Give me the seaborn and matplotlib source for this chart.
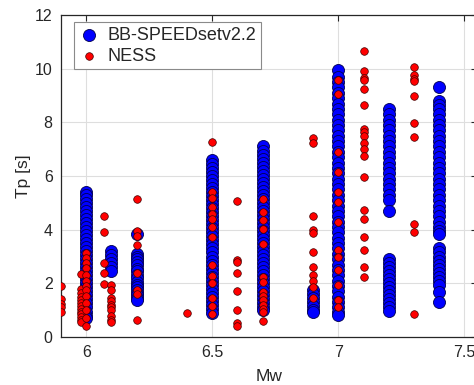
import matplotlib
matplotlib.use("Agg")
import matplotlib.pyplot as plt
import seaborn as sns
import pandas as pd

# ---- data ----
bb_mw_6_0 = [5.4, 5.3, 5.15, 5.0, 4.85, 4.7, 4.55, 4.4, 4.25, 4.1, 3.95, 3.8, 3.65, 3.5, 3.35, 3.2,
             3.05, 2.9, 2.75, 2.6, 2.45, 2.3, 2.15, 2.0, 1.85, 1.7, 1.55, 1.4, 1.25, 1.1, 0.95, 0.8, 0.7]
bb_mw_6_1 = [3.2, 3.05, 2.9, 2.75, 2.6, 2.47]
bb_mw_6_2 = [3.83, 3.1, 3.0, 2.9, 2.8, 2.7, 2.55, 2.45, 2.3, 2.2, 2.05, 1.95, 1.85, 1.75, 1.65,
             1.55, 1.45, 1.38]
bb_mw_6_5 = [6.6, 6.45, 6.3, 6.15, 6.0, 5.85, 5.7, 5.55, 5.4, 5.25, 5.1, 4.95, 4.8, 4.65, 4.5, 4.35,
             4.2, 4.05, 3.9, 3.75, 3.6, 3.45, 3.3, 3.15, 3.0, 2.85, 2.7, 2.55, 2.4, 2.25, 2.1, 1.95,
             1.8, 1.65, 1.5, 1.35, 1.2, 1.05, 0.9]
bb_mw_6_7 = [7.1, 6.95, 6.8, 6.65, 6.5, 6.35, 6.2, 6.05, 5.9, 5.75, 5.6, 5.45, 5.3, 5.15, 5.0, 4.85,
             4.7, 4.55, 4.4, 4.25, 4.1, 3.95, 3.8, 3.65, 3.5, 3.35, 3.2, 3.05, 2.9, 2.75, 2.6, 2.45,
             2.3, 2.15, 2.0, 1.85, 1.7, 1.55, 1.4, 1.25, 1.1, 1.0]
bb_mw_6_9 = [1.75, 1.6, 1.45, 1.3, 1.15, 1.0, 0.92]
bb_mw_7_0 = [9.95, 9.7, 9.5, 9.3, 9.1, 8.9, 8.7, 8.5, 8.3, 8.1, 7.9, 7.7, 7.5, 7.3, 7.1, 6.9, 6.7,
             6.5, 6.3, 6.1, 5.9, 5.7, 5.5, 5.3, 5.1, 4.9, 4.7, 4.5, 4.3, 4.1, 3.9, 3.7, 3.5, 3.3,
             3.1, 2.9, 2.7, 2.5, 2.3, 2.1, 1.9, 1.7, 1.5, 1.3, 1.1, 0.95, 0.82]
bb_mw_7_2 = [8.5, 8.3, 8.1, 7.9, 7.7, 7.5, 7.3, 7.1, 6.9, 6.7, 6.5, 6.3, 6.1, 5.9, 5.7, 5.5, 5.3,
             5.1, 4.7, 2.9, 2.75, 2.6, 2.45, 2.3, 2.15, 2.0, 1.85, 1.7, 1.55, 1.4, 1.25, 1.1, 0.98]
bb_mw_7_4 = [9.3, 8.8, 8.65, 8.5, 8.3, 8.1, 7.9, 7.7, 7.5, 7.3, 7.1, 6.9, 6.7, 6.5, 6.3, 6.1, 5.9,
             5.7, 5.5, 5.3, 5.1, 4.9, 4.7, 4.5, 4.3, 4.1, 3.95, 3.84, 3.3, 3.15, 3.0, 2.85, 2.7,
             2.55, 2.4, 2.25, 2.1, 1.95, 1.69, 1.32]

ness_mw_5_90 = [1.9, 1.42, 1.22, 1.13, 0.92]
ness_mw_5_98 = [2.35, 1.8, 1.65, 1.5, 1.38, 1.25, 1.15, 1.05, 0.95, 0.85, 0.75, 0.65, 0.55]
ness_mw_6_00 = [3.12, 2.96, 2.75, 2.56, 2.31, 2.1, 1.9, 1.75, 1.53, 1.26, 1.0, 0.7, 0.42]
ness_mw_6_07 = [4.5, 3.9, 2.75, 2.4, 1.96]
ness_mw_6_10 = [1.95, 1.75, 1.44, 1.33, 1.2, 1.1, 1.0, 0.8, 0.65, 0.55]
ness_mw_6_20 = [5.13, 3.95, 3.77, 3.43, 2.37, 1.75, 1.6, 0.63]
ness_mw_6_40 = [0.88]
ness_mw_6_50 = [7.27, 5.4, 5.17, 4.86, 4.6, 4.39, 4.09, 3.72, 2.7, 2.27, 2.0, 1.44, 1.17, 0.85]
ness_mw_6_60 = [5.07, 2.87, 2.78, 2.4, 1.7, 1.0, 0.53, 0.42]
ness_mw_6_70 = [5.13, 4.65, 4.35, 4.03, 3.45, 2.25, 2.06, 1.67, 1.54, 1.38, 1.2, 1.04, 0.92, 0.61]
ness_mw_6_90 = [7.43, 7.22, 4.52, 3.99, 3.89, 3.17, 2.61, 2.3, 2.09, 1.88, 1.44]
ness_mw_7_00 = [9.58, 9.06, 6.9, 6.14, 5.42, 5.04, 4.27, 3.24, 2.97, 2.5, 1.94, 1.38, 1.13]
ness_mw_7_10 = [10.67, 9.93, 9.65, 9.57, 9.23, 8.65, 7.76, 7.65, 7.5, 7.22, 7.0, 6.73, 5.97, 4.75,
                4.4, 3.74, 3.23, 2.61, 2.25]
ness_mw_7_30 = [10.05, 9.77, 9.6, 9.54, 8.98, 7.96, 7.44, 4.22, 3.91, 0.87]

bb_groups = {6.0: bb_mw_6_0, 6.1: bb_mw_6_1, 6.2: bb_mw_6_2, 6.5: bb_mw_6_5, 6.7: bb_mw_6_7,
             6.9: bb_mw_6_9, 7.0: bb_mw_7_0, 7.2: bb_mw_7_2, 7.4: bb_mw_7_4}
ness_groups = {5.90: ness_mw_5_90, 5.98: ness_mw_5_98, 6.0: ness_mw_6_00, 6.07: ness_mw_6_07,
               6.1: ness_mw_6_10, 6.2: ness_mw_6_20, 6.4: ness_mw_6_40, 6.5: ness_mw_6_50,
               6.6: ness_mw_6_60, 6.7: ness_mw_6_70, 6.9: ness_mw_6_90, 7.0: ness_mw_7_00,
               7.1: ness_mw_7_10, 7.3: ness_mw_7_30}

x_ticks = [6, 6.5, 7, 7.5]
x_tick_labels = ["6", "6.5", "7", "7.5"]
y_ticks = [0, 2, 4, 6, 8, 10, 12]

bb_df = pd.DataFrame([(m, t) for m, v in bb_groups.items() for t in v], columns=["Mw", "Tp"])
ness_df = pd.DataFrame([(m, t) for m, v in ness_groups.items() for t in v], columns=["Mw", "Tp"])

# ---- style ----
sns.set_style("white")
plt.rcParams["font.family"] = ["Liberation Sans", "DejaVu Sans"]
dark = "#262626"

fig = plt.figure(figsize=(4.74, 3.85), dpi=100)
ax = fig.add_axes([61 / 474, 1 - 337 / 385, 416 / 474, 322 / 385])

sns.scatterplot(data=bb_df, x="Mw", y="Tp", ax=ax, s=75, color="#0000FF",
                edgecolor="#00004d", linewidth=0.6, label="BB-SPEEDsetv2.2", zorder=3)
sns.scatterplot(data=ness_df, x="Mw", y="Tp", ax=ax, s=30, color="#FF0000",
                edgecolor="#400000", linewidth=0.5, label="NESS", zorder=4)

ax.set_xlim(5.9, 7.55)
ax.set_ylim(0, 12)
ax.set_xticks(x_ticks)
ax.set_xticklabels(x_tick_labels)
ax.set_yticks(y_ticks)
ax.grid(True, color="#dedede", linewidth=0.8, zorder=0)
ax.set_axisbelow(True)
ax.tick_params(direction="in", length=4, width=0.8, colors=dark, labelsize=11.5,
               top=True, right=True, labelcolor=dark, pad=6)
for sp in ax.spines.values():
    sp.set_color(dark)
    sp.set_linewidth(0.9)
ax.set_xlabel("Mw", fontsize=12.5, color=dark, labelpad=6)
ax.set_ylabel("Tp [s]", fontsize=12.5, color=dark, labelpad=3)

leg = ax.legend(loc="upper left", bbox_to_anchor=(13 / 416, 1 - 7 / 322), fontsize=13,
                frameon=True, fancybox=False, edgecolor="#8a8a8a", framealpha=1,
                borderpad=0.25, handlelength=1.2, handletextpad=0.42, labelspacing=0.24,
                borderaxespad=0, markerscale=1.0)
leg.get_frame().set_linewidth(0.8)

fig.savefig("out.png", dpi=100)
